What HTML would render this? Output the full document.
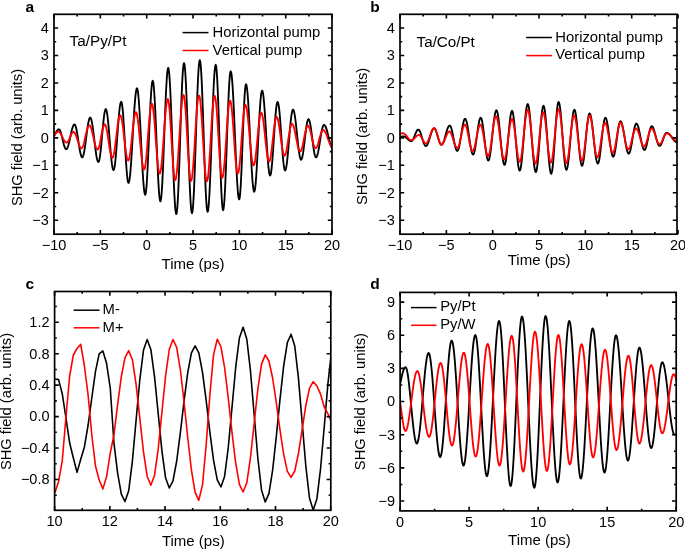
<!DOCTYPE html>
<html><head><meta charset="utf-8"><style>
html,body{margin:0;padding:0;background:#fff;width:685px;height:550px;overflow:hidden}
svg{display:block;transform:translateZ(0);will-change:transform}
text{font-family:"Liberation Sans",sans-serif}
</style></head><body>
<svg width="685" height="550" viewBox="0 0 685 550" font-family="Liberation Sans, sans-serif" fill="#000">
<clipPath id="ca"><rect x="54" y="14.3" width="278" height="219.9"/></clipPath>
<path d="M51.1,139.1 L51.59,139.01 L52.08,138.73 L52.56,138.27 L53.05,137.66 L53.54,136.92 L54.02,136.08 L54.51,135.16 L55,134.2 L55.49,133.24 L55.98,132.32 L56.46,131.48 L56.95,130.74 L57.44,130.13 L57.92,129.67 L58.41,129.39 L58.9,129.3 L59.39,129.52 L59.87,130.16 L60.36,131.2 L60.85,132.59 L61.33,134.28 L61.82,136.18 L62.31,138.21 L62.79,140.29 L63.28,142.32 L63.77,144.22 L64.25,145.91 L64.74,147.3 L65.23,148.34 L65.71,148.98 L66.2,149.2 L66.69,148.99 L67.18,148.36 L67.66,147.34 L68.15,145.96 L68.64,144.27 L69.13,142.33 L69.62,140.19 L70.11,137.94 L70.59,135.66 L71.08,133.41 L71.57,131.27 L72.06,129.33 L72.55,127.64 L73.04,126.26 L73.52,125.24 L74.01,124.61 L74.5,124.4 L74.98,124.72 L75.46,125.66 L75.94,127.18 L76.42,129.23 L76.91,131.73 L77.39,134.59 L77.87,137.68 L78.35,140.9 L78.83,144.12 L79.31,147.21 L79.79,150.07 L80.28,152.57 L80.76,154.62 L81.24,156.14 L81.72,157.08 L82.2,157.4 L82.7,157.02 L83.2,155.89 L83.7,154.05 L84.2,151.57 L84.7,148.56 L85.2,145.12 L85.7,141.38 L86.2,137.5 L86.7,133.62 L87.2,129.88 L87.7,126.44 L88.2,123.43 L88.7,120.95 L89.2,119.11 L89.7,117.98 L90.2,117.6 L90.68,117.98 L91.16,119.1 L91.65,120.93 L92.13,123.39 L92.61,126.42 L93.09,129.9 L93.58,133.72 L94.06,137.75 L94.54,141.85 L95.02,145.88 L95.51,149.7 L95.99,153.18 L96.47,156.21 L96.95,158.67 L97.44,160.5 L97.92,161.62 L98.4,162 L98.89,161.42 L99.39,159.71 L99.88,156.95 L100.37,153.25 L100.87,148.78 L101.36,143.72 L101.85,138.31 L102.35,132.79 L102.84,127.38 L103.33,122.33 L103.83,117.85 L104.32,114.15 L104.81,111.39 L105.31,109.68 L105.8,109.1 L106.28,109.69 L106.76,111.42 L107.24,114.24 L107.72,118.03 L108.21,122.66 L108.69,127.93 L109.17,133.65 L109.65,139.6 L110.13,145.55 L110.61,151.27 L111.09,156.54 L111.58,161.17 L112.06,164.96 L112.54,167.78 L113.02,169.51 L113.5,170.1 L113.98,169.44 L114.46,167.5 L114.94,164.34 L115.42,160.08 L115.91,154.9 L116.39,148.99 L116.87,142.57 L117.35,135.9 L117.83,129.23 L118.31,122.81 L118.79,116.9 L119.28,111.72 L119.76,107.46 L120.24,104.3 L120.72,102.36 L121.2,101.7 L121.69,102.59 L122.17,105.21 L122.66,109.45 L123.15,115.13 L123.63,122 L124.12,129.75 L124.61,138.06 L125.09,146.54 L125.58,154.85 L126.07,162.6 L126.55,169.47 L127.04,175.15 L127.53,179.39 L128.01,182.01 L128.5,182.9 L129,182.09 L129.5,179.71 L130,175.82 L130.5,170.56 L131,164.1 L131.5,156.68 L132,148.54 L132.5,139.96 L133,131.24 L133.5,122.66 L134,114.52 L134.5,107.1 L135,100.64 L135.5,95.38 L136,91.49 L136.5,89.11 L137,88.3 L137.48,89.21 L137.96,91.9 L138.45,96.28 L138.93,102.2 L139.41,109.46 L139.89,117.81 L140.38,126.98 L140.86,136.64 L141.34,146.46 L141.82,156.12 L142.31,165.29 L142.79,173.64 L143.27,180.9 L143.75,186.82 L144.24,191.2 L144.72,193.89 L145.2,194.8 L145.7,193.55 L146.2,189.87 L146.7,183.91 L147.2,175.94 L147.7,166.3 L148.2,155.41 L148.7,143.76 L149.2,131.84 L149.7,120.19 L150.2,109.3 L150.7,99.66 L151.2,91.69 L151.7,85.73 L152.2,82.05 L152.7,80.8 L153.18,81.96 L153.66,85.39 L154.14,90.96 L154.62,98.46 L155.11,107.6 L155.59,118.02 L156.07,129.34 L156.55,141.1 L157.03,152.86 L157.51,164.18 L157.99,174.6 L158.47,183.74 L158.96,191.24 L159.44,196.81 L159.92,200.24 L160.4,201.4 L160.89,200.12 L161.38,196.32 L161.86,190.15 L162.35,181.85 L162.84,171.73 L163.32,160.19 L163.81,147.67 L164.3,134.65 L164.79,121.63 L165.28,109.11 L165.76,97.57 L166.25,87.45 L166.74,79.15 L167.22,72.98 L167.71,69.18 L168.2,67.9 L168.68,69.14 L169.15,72.84 L169.63,78.85 L170.11,86.98 L170.58,96.95 L171.06,108.42 L171.54,121 L172.01,134.26 L172.49,147.74 L172.96,161 L173.44,173.58 L173.92,185.05 L174.39,195.02 L174.87,203.15 L175.35,209.16 L175.82,212.86 L176.3,214.1 L176.78,212.65 L177.26,208.35 L177.74,201.38 L178.23,191.99 L178.71,180.55 L179.19,167.49 L179.67,153.33 L180.15,138.6 L180.63,123.87 L181.11,109.71 L181.59,96.65 L182.07,85.21 L182.56,75.82 L183.04,68.85 L183.52,64.55 L184,63.1 L184.5,64.54 L185,68.82 L185.5,75.76 L186,85.1 L186.5,96.48 L187,109.46 L187.5,123.55 L188,138.2 L188.5,152.85 L189,166.94 L189.5,179.92 L190,191.3 L190.5,200.64 L191,207.58 L191.5,211.86 L192,213.3 L192.49,211.83 L192.97,207.47 L193.46,200.39 L193.95,190.86 L194.44,179.26 L194.93,166.01 L195.41,151.64 L195.9,136.7 L196.39,121.76 L196.88,107.39 L197.36,94.14 L197.85,82.54 L198.34,73.01 L198.83,65.93 L199.31,61.57 L199.8,60.1 L200.29,61.56 L200.78,65.87 L201.26,72.88 L201.75,82.32 L202.24,93.81 L202.72,106.92 L203.21,121.15 L203.7,135.95 L204.19,150.75 L204.68,164.98 L205.16,178.09 L205.65,189.58 L206.14,199.02 L206.62,206.03 L207.11,210.34 L207.6,211.8 L208.08,210.55 L208.55,206.84 L209.03,200.79 L209.51,192.62 L209.98,182.59 L210.46,171.06 L210.94,158.41 L211.41,145.08 L211.89,131.52 L212.36,118.19 L212.84,105.54 L213.32,94.01 L213.79,83.98 L214.27,75.81 L214.75,69.76 L215.22,66.05 L215.7,64.8 L216.19,66.39 L216.69,71.09 L217.18,78.69 L217.67,88.87 L218.17,101.17 L218.66,115.07 L219.15,129.95 L219.65,145.15 L220.14,160.03 L220.63,173.92 L221.13,186.23 L221.62,196.41 L222.11,204.01 L222.61,208.71 L223.1,210.3 L223.57,208.96 L224.05,205.01 L224.53,198.59 L225,189.94 L225.47,179.41 L225.95,167.4 L226.42,154.36 L226.9,140.8 L227.38,127.24 L227.85,114.2 L228.32,102.19 L228.8,91.66 L229.27,83.01 L229.75,76.59 L230.22,72.64 L230.7,71.3 L231.2,72.39 L231.7,75.63 L232.2,80.89 L232.7,88.02 L233.2,96.75 L233.7,106.8 L234.2,117.82 L234.7,129.44 L235.2,141.26 L235.7,152.88 L236.2,163.9 L236.7,173.95 L237.2,182.68 L237.7,189.81 L238.2,195.07 L238.7,198.31 L239.2,199.4 L239.69,197.96 L240.17,193.7 L240.66,186.83 L241.14,177.71 L241.63,166.79 L242.11,154.62 L242.6,141.8 L243.09,128.98 L243.57,116.81 L244.06,105.89 L244.54,96.77 L245.03,89.9 L245.51,85.64 L246,84.2 L246.48,85.12 L246.96,87.83 L247.45,92.25 L247.93,98.23 L248.41,105.56 L248.89,113.99 L249.38,123.24 L249.86,132.99 L250.34,142.91 L250.82,152.66 L251.31,161.91 L251.79,170.34 L252.27,177.67 L252.75,183.65 L253.24,188.07 L253.72,190.78 L254.2,191.7 L254.69,190.73 L255.19,187.85 L255.68,183.18 L256.18,176.89 L256.67,169.23 L257.16,160.49 L257.66,151.01 L258.15,141.15 L258.64,131.29 L259.14,121.81 L259.63,113.07 L260.12,105.41 L260.62,99.12 L261.11,94.45 L261.61,91.57 L262.1,90.6 L262.6,91.42 L263.1,93.83 L263.6,97.75 L264.1,103.03 L264.6,109.47 L265.1,116.81 L265.6,124.77 L266.1,133.05 L266.6,141.33 L267.1,149.29 L267.6,156.63 L268.1,163.07 L268.6,168.35 L269.1,172.27 L269.6,174.68 L270.1,175.5 L270.6,174.7 L271.1,172.32 L271.6,168.47 L272.1,163.32 L272.6,157.1 L273.1,150.07 L273.6,142.55 L274.1,134.85 L274.6,127.33 L275.1,120.3 L275.6,114.08 L276.1,108.93 L276.6,105.08 L277.1,102.7 L277.6,101.9 L278.1,102.65 L278.6,104.87 L279.1,108.45 L279.6,113.25 L280.1,119.05 L280.6,125.6 L281.1,132.61 L281.6,139.79 L282.1,146.8 L282.6,153.35 L283.1,159.15 L283.6,163.95 L284.1,167.53 L284.6,169.75 L285.1,170.5 L285.59,169.91 L286.09,168.18 L286.58,165.37 L287.08,161.58 L287.57,156.97 L288.06,151.7 L288.56,145.99 L289.05,140.05 L289.54,134.11 L290.04,128.4 L290.53,123.13 L291.02,118.52 L291.52,114.73 L292.01,111.92 L292.51,110.19 L293,109.6 L293.48,110.03 L293.95,111.29 L294.43,113.35 L294.91,116.14 L295.38,119.55 L295.86,123.48 L296.34,127.79 L296.81,132.34 L297.29,136.96 L297.76,141.51 L298.24,145.82 L298.72,149.75 L299.19,153.16 L299.67,155.95 L300.15,158.01 L300.62,159.27 L301.1,159.7 L301.59,159.26 L302.09,157.95 L302.58,155.83 L303.07,153 L303.57,149.57 L304.06,145.71 L304.55,141.57 L305.05,137.33 L305.54,133.19 L306.03,129.32 L306.53,125.9 L307.02,123.07 L307.51,120.95 L308.01,119.64 L308.5,119.2 L309,119.62 L309.5,120.85 L310,122.85 L310.5,125.52 L311,128.75 L311.5,132.4 L312,136.3 L312.5,140.3 L313,144.2 L313.5,147.85 L314,151.08 L314.5,153.75 L315,155.75 L315.5,156.98 L316,157.4 L316.5,157.09 L317,156.16 L317.5,154.66 L318,152.64 L318.5,150.18 L319,147.37 L319.5,144.32 L320,141.15 L320.5,137.98 L321,134.93 L321.5,132.12 L322,129.66 L322.5,127.64 L323,126.14 L323.5,125.21 L324,124.9 L324.5,125.08 L325,125.61 L325.5,126.48 L326,127.66 L326.5,129.12 L327,130.8 L327.5,132.66 L328,134.65 L328.5,136.7 L329,138.75 L329.5,140.74 L330,142.6 L330.5,144.28 L331,145.74 L331.5,146.92 L332,147.79 L332.5,148.32 L333,148.5" fill="none" stroke="#000" stroke-width="1.85" stroke-linejoin="round" clip-path="url(#ca)"/>
<path d="M50.5,139.5 L50.98,139.42 L51.46,139.2 L51.94,138.83 L52.42,138.34 L52.91,137.74 L53.39,137.06 L53.87,136.32 L54.35,135.55 L54.83,134.78 L55.31,134.04 L55.79,133.36 L56.28,132.76 L56.76,132.27 L57.24,131.9 L57.72,131.68 L58.2,131.6 L58.69,131.69 L59.19,131.97 L59.68,132.42 L60.18,133.04 L60.67,133.79 L61.16,134.65 L61.66,135.59 L62.15,136.59 L62.65,137.61 L63.14,138.61 L63.64,139.55 L64.13,140.41 L64.62,141.16 L65.12,141.78 L65.61,142.23 L66.11,142.51 L66.6,142.6 L67.09,142.47 L67.59,142.07 L68.08,141.43 L68.57,140.59 L69.06,139.57 L69.56,138.44 L70.05,137.25 L70.54,136.06 L71.04,134.93 L71.53,133.91 L72.02,133.07 L72.51,132.43 L73.01,132.03 L73.5,131.9 L74,132.06 L74.5,132.52 L75,133.28 L75.5,134.3 L76,135.54 L76.5,136.96 L77,138.5 L77.5,140.1 L78,141.7 L78.5,143.24 L79,144.66 L79.5,145.9 L80,146.92 L80.5,147.68 L81,148.14 L81.5,148.3 L81.99,148.08 L82.47,147.42 L82.96,146.36 L83.45,144.93 L83.94,143.19 L84.42,141.2 L84.91,139.04 L85.4,136.8 L85.89,134.56 L86.38,132.4 L86.86,130.41 L87.35,128.67 L87.84,127.24 L88.33,126.18 L88.81,125.52 L89.3,125.3 L89.79,125.51 L90.28,126.12 L90.76,127.12 L91.25,128.47 L91.74,130.13 L92.23,132.03 L92.72,134.12 L93.21,136.33 L93.69,138.57 L94.18,140.78 L94.67,142.87 L95.16,144.77 L95.65,146.43 L96.14,147.78 L96.62,148.78 L97.11,149.39 L97.6,149.6 L98.07,149.32 L98.55,148.51 L99.02,147.18 L99.49,145.41 L99.97,143.28 L100.44,140.86 L100.91,138.27 L101.39,135.63 L101.86,133.04 L102.33,130.62 L102.81,128.49 L103.28,126.72 L103.75,125.39 L104.23,124.58 L104.7,124.3 L105.18,124.62 L105.66,125.57 L106.14,127.11 L106.62,129.19 L107.11,131.72 L107.59,134.61 L108.07,137.74 L108.55,141 L109.03,144.26 L109.51,147.39 L109.99,150.28 L110.48,152.81 L110.96,154.89 L111.44,156.43 L111.92,157.38 L112.4,157.7 L112.89,157.29 L113.38,156.09 L113.86,154.13 L114.35,151.49 L114.84,148.28 L115.33,144.61 L115.81,140.64 L116.3,136.5 L116.79,132.36 L117.28,128.39 L117.76,124.72 L118.25,121.51 L118.74,118.87 L119.23,116.91 L119.71,115.71 L120.2,115.3 L120.7,115.73 L121.2,117.02 L121.7,119.11 L122.2,121.92 L122.7,125.34 L123.2,129.25 L123.7,133.49 L124.2,137.9 L124.7,142.31 L125.2,146.55 L125.7,150.46 L126.2,153.88 L126.7,156.69 L127.2,158.78 L127.7,160.07 L128.2,160.5 L128.68,160.04 L129.16,158.66 L129.64,156.43 L130.12,153.43 L130.61,149.77 L131.09,145.59 L131.57,141.06 L132.05,136.35 L132.53,131.64 L133.01,127.11 L133.49,122.93 L133.97,119.27 L134.46,116.27 L134.94,114.04 L135.42,112.66 L135.9,112.2 L136.38,112.69 L136.86,114.14 L137.35,116.5 L137.83,119.69 L138.31,123.6 L138.79,128.11 L139.28,133.05 L139.76,138.25 L140.24,143.55 L140.72,148.75 L141.21,153.69 L141.69,158.2 L142.17,162.11 L142.65,165.3 L143.14,167.66 L143.62,169.11 L144.1,169.6 L144.58,168.97 L145.06,167.09 L145.54,164.05 L146.03,159.95 L146.51,154.96 L146.99,149.26 L147.47,143.08 L147.95,136.65 L148.43,130.22 L148.91,124.04 L149.39,118.34 L149.88,113.35 L150.36,109.25 L150.84,106.21 L151.32,104.33 L151.8,103.7 L152.29,104.37 L152.79,106.36 L153.28,109.59 L153.78,113.94 L154.27,119.23 L154.76,125.28 L155.26,131.83 L155.75,138.65 L156.24,145.47 L156.74,152.02 L157.23,158.07 L157.72,163.36 L158.22,167.71 L158.71,170.94 L159.21,172.93 L159.7,173.6 L160.18,172.97 L160.65,171.08 L161.13,168.02 L161.61,163.88 L162.08,158.8 L162.56,152.95 L163.04,146.54 L163.51,139.79 L163.99,132.91 L164.46,126.16 L164.94,119.75 L165.42,113.9 L165.89,108.82 L166.37,104.68 L166.85,101.62 L167.32,99.73 L167.8,99.1 L168.29,99.99 L168.79,102.6 L169.28,106.83 L169.77,112.5 L170.27,119.35 L170.76,127.08 L171.25,135.37 L171.75,143.83 L172.24,152.12 L172.73,159.85 L173.23,166.7 L173.72,172.37 L174.21,176.6 L174.71,179.21 L175.2,180.1 L175.69,179.37 L176.18,177.22 L176.66,173.72 L177.15,168.98 L177.64,163.17 L178.13,156.49 L178.62,149.16 L179.11,141.43 L179.59,133.57 L180.08,125.84 L180.57,118.51 L181.06,111.83 L181.55,106.02 L182.04,101.28 L182.52,97.78 L183.01,95.63 L183.5,94.9 L184,95.84 L184.5,98.62 L185,103.11 L185.5,109.13 L186,116.4 L186.5,124.61 L187,133.41 L187.5,142.39 L188,151.19 L188.5,159.4 L189,166.67 L189.5,172.69 L190,177.18 L190.5,179.96 L191,180.9 L191.5,180.08 L192,177.65 L192.5,173.7 L193,168.39 L193.5,161.92 L194,154.54 L194.5,146.53 L195,138.2 L195.5,129.87 L196,121.86 L196.5,114.48 L197,108.01 L197.5,102.7 L198,98.75 L198.5,96.32 L199,95.5 L199.49,96.32 L199.99,98.77 L200.48,102.73 L200.97,108.07 L201.47,114.57 L201.96,121.98 L202.46,130.03 L202.95,138.4 L203.44,146.77 L203.94,154.82 L204.43,162.23 L204.93,168.73 L205.42,174.07 L205.91,178.03 L206.41,180.48 L206.9,181.3 L207.38,180.48 L207.86,178.04 L208.34,174.09 L208.82,168.76 L209.31,162.28 L209.79,154.88 L210.27,146.85 L210.75,138.5 L211.23,130.15 L211.71,122.12 L212.19,114.72 L212.68,108.24 L213.16,102.91 L213.64,98.96 L214.12,96.52 L214.6,95.7 L215.07,96.49 L215.55,98.82 L216.03,102.62 L216.5,107.72 L216.97,113.94 L217.45,121.04 L217.92,128.74 L218.4,136.75 L218.88,144.76 L219.35,152.46 L219.82,159.56 L220.3,165.78 L220.77,170.88 L221.25,174.68 L221.72,177.01 L222.2,177.8 L222.69,177.06 L223.19,174.86 L223.68,171.29 L224.17,166.49 L224.67,160.65 L225.16,153.97 L225.66,146.73 L226.15,139.2 L226.64,131.67 L227.14,124.43 L227.63,117.75 L228.12,111.91 L228.62,107.11 L229.11,103.54 L229.61,101.34 L230.1,100.6 L230.58,101.3 L231.06,103.38 L231.54,106.75 L232.03,111.29 L232.51,116.82 L232.99,123.13 L233.47,129.98 L233.95,137.1 L234.43,144.22 L234.91,151.07 L235.39,157.38 L235.88,162.91 L236.36,167.45 L236.84,170.82 L237.32,172.9 L237.8,173.6 L238.28,172.94 L238.75,170.99 L239.23,167.81 L239.7,163.54 L240.18,158.33 L240.65,152.4 L241.12,145.95 L241.6,139.25 L242.08,132.55 L242.55,126.1 L243.03,120.17 L243.5,114.96 L243.97,110.69 L244.45,107.51 L244.93,105.56 L245.4,104.9 L245.88,105.42 L246.36,106.94 L246.85,109.43 L247.33,112.79 L247.81,116.92 L248.29,121.67 L248.78,126.87 L249.26,132.36 L249.74,137.94 L250.22,143.43 L250.71,148.63 L251.19,153.38 L251.67,157.51 L252.15,160.87 L252.64,163.36 L253.12,164.88 L253.6,165.4 L254.07,164.89 L254.55,163.39 L255.03,160.96 L255.5,157.68 L255.97,153.69 L256.45,149.13 L256.93,144.19 L257.4,139.05 L257.88,133.91 L258.35,128.97 L258.82,124.41 L259.3,120.42 L259.77,117.14 L260.25,114.71 L260.72,113.21 L261.2,112.7 L261.69,113.17 L262.19,114.56 L262.68,116.82 L263.18,119.86 L263.67,123.57 L264.16,127.79 L264.66,132.38 L265.15,137.15 L265.64,141.92 L266.14,146.51 L266.63,150.73 L267.12,154.44 L267.62,157.48 L268.11,159.74 L268.61,161.13 L269.1,161.6 L269.6,161.11 L270.1,159.67 L270.6,157.33 L271.1,154.21 L271.6,150.43 L272.1,146.16 L272.6,141.59 L273.1,136.91 L273.6,132.34 L274.1,128.08 L274.6,124.29 L275.1,121.17 L275.6,118.83 L276.1,117.39 L276.6,116.9 L277.09,117.27 L277.59,118.38 L278.08,120.17 L278.58,122.58 L279.07,125.52 L279.56,128.88 L280.06,132.52 L280.55,136.3 L281.04,140.08 L281.54,143.72 L282.03,147.08 L282.52,150.02 L283.02,152.43 L283.51,154.22 L284.01,155.33 L284.5,155.7 L285,155.35 L285.5,154.32 L286,152.65 L286.5,150.42 L287,147.72 L287.5,144.68 L288,141.42 L288.5,138.08 L289,134.82 L289.5,131.78 L290,129.08 L290.5,126.85 L291,125.18 L291.5,124.15 L292,123.8 L292.48,124.04 L292.96,124.74 L293.45,125.87 L293.93,127.41 L294.41,129.3 L294.89,131.48 L295.38,133.86 L295.86,136.37 L296.34,138.93 L296.82,141.44 L297.31,143.82 L297.79,146 L298.27,147.89 L298.75,149.43 L299.24,150.56 L299.72,151.26 L300.2,151.5 L300.68,151.25 L301.15,150.52 L301.62,149.33 L302.1,147.72 L302.57,145.77 L303.05,143.54 L303.52,141.12 L304,138.6 L304.48,136.08 L304.95,133.66 L305.43,131.43 L305.9,129.48 L306.38,127.87 L306.85,126.68 L307.32,125.95 L307.8,125.7 L308.29,125.92 L308.78,126.55 L309.26,127.59 L309.75,128.98 L310.24,130.68 L310.73,132.61 L311.21,134.71 L311.7,136.9 L312.19,139.09 L312.68,141.19 L313.16,143.12 L313.65,144.82 L314.14,146.21 L314.62,147.25 L315.11,147.88 L315.6,148.1 L316.1,147.9 L316.6,147.32 L317.1,146.37 L317.6,145.11 L318.1,143.57 L318.6,141.85 L319.1,140 L319.6,138.1 L320.1,136.25 L320.6,134.53 L321.1,132.99 L321.6,131.73 L322.1,130.78 L322.6,130.2 L323.1,130 L323.6,130.11 L324.09,130.44 L324.59,130.98 L325.08,131.72 L325.58,132.64 L326.07,133.71 L326.56,134.91 L327.06,136.22 L327.56,137.59 L328.05,139 L328.55,140.41 L329.04,141.78 L329.54,143.09 L330.03,144.29 L330.52,145.36 L331.02,146.28 L331.51,147.02 L332.01,147.56 L332.5,147.89 L333,148" fill="none" stroke="#f00" stroke-width="1.85" stroke-linejoin="round" clip-path="url(#ca)"/>
<rect x="54" y="14.3" width="278" height="219.9" fill="none" stroke="#000" stroke-width="1.7"/>
<path d="M54.03,234.2v-4.2M54.03,14.3v4.2M100.36,234.2v-4.2M100.36,14.3v4.2M146.7,234.2v-4.2M146.7,14.3v4.2M193.03,234.2v-4.2M193.03,14.3v4.2M239.37,234.2v-4.2M239.37,14.3v4.2M285.7,234.2v-4.2M285.7,14.3v4.2M332.04,234.2v-4.2M332.04,14.3v4.2M77.2,234.2v-2.2M77.2,14.3v2.2M123.53,234.2v-2.2M123.53,14.3v2.2M169.87,234.2v-2.2M169.87,14.3v2.2M216.2,234.2v-2.2M216.2,14.3v2.2M262.54,234.2v-2.2M262.54,14.3v2.2M308.87,234.2v-2.2M308.87,14.3v2.2" stroke="#000" stroke-width="1.6" fill="none"/>
<path d="M54,28.01h4.2M332,28.01h-4.2M54,55.47h4.2M332,55.47h-4.2M54,82.93h4.2M332,82.93h-4.2M54,110.39h4.2M332,110.39h-4.2M54,137.85h4.2M332,137.85h-4.2M54,165.31h4.2M332,165.31h-4.2M54,192.77h4.2M332,192.77h-4.2M54,220.23h4.2M332,220.23h-4.2M54,41.74h2.2M332,41.74h-2.2M54,69.2h2.2M332,69.2h-2.2M54,96.66h2.2M332,96.66h-2.2M54,124.12h2.2M332,124.12h-2.2M54,151.58h2.2M332,151.58h-2.2M54,179.04h2.2M332,179.04h-2.2M54,206.5h2.2M332,206.5h-2.2" stroke="#000" stroke-width="1.6" fill="none"/>
<text x="54.03" y="250.2" font-size="14.5" text-anchor="middle" >−10</text>
<text x="100.36" y="250.2" font-size="14.5" text-anchor="middle" >−5</text>
<text x="146.7" y="250.2" font-size="14.5" text-anchor="middle" >0</text>
<text x="193.03" y="250.2" font-size="14.5" text-anchor="middle" >5</text>
<text x="239.37" y="250.2" font-size="14.5" text-anchor="middle" >10</text>
<text x="285.7" y="250.2" font-size="14.5" text-anchor="middle" >15</text>
<text x="332.04" y="250.2" font-size="14.5" text-anchor="middle" >20</text>
<text x="48.9" y="32.81" font-size="14.5" text-anchor="end" >4</text>
<text x="48.9" y="60.27" font-size="14.5" text-anchor="end" >3</text>
<text x="48.9" y="87.73" font-size="14.5" text-anchor="end" >2</text>
<text x="48.9" y="115.19" font-size="14.5" text-anchor="end" >1</text>
<text x="48.9" y="142.65" font-size="14.5" text-anchor="end" >0</text>
<text x="48.9" y="170.11" font-size="14.5" text-anchor="end" >−1</text>
<text x="48.9" y="197.57" font-size="14.5" text-anchor="end" >−2</text>
<text x="48.9" y="225.03" font-size="14.5" text-anchor="end" >−3</text>
<text x="193" y="268.7" font-size="15" text-anchor="middle" >Time (ps)</text>
<text x="0" y="0" font-size="14.7" text-anchor="middle" transform="translate(22.2,137.5) rotate(-90)">SHG field (arb. units)</text>
<text x="25.6" y="11.8" font-size="15.5" font-weight="bold">a</text>
<path d="M182.6,32.6H208.5" stroke="#000" stroke-width="1.5"/>
<text x="212.6" y="36.6" font-size="14.8" text-anchor="start" >Horizontal pump</text>
<path d="M182.6,50.5H208.5" stroke="#f00" stroke-width="1.5"/>
<text x="212.6" y="54.6" font-size="14.8" text-anchor="start" >Vertical pump</text>
<text x="69.6" y="45.8" font-size="15.3" text-anchor="start" >Ta/Py/Pt</text>
<clipPath id="cb"><rect x="400" y="14.3" width="277" height="219.9"/></clipPath>
<path d="M396,138.5 L396.49,138.48 L396.97,138.4 L397.46,138.29 L397.95,138.14 L398.43,137.95 L398.92,137.74 L399.41,137.51 L399.89,137.29 L400.38,137.06 L400.87,136.85 L401.35,136.66 L401.84,136.51 L402.33,136.4 L402.81,136.32 L403.3,136.3 L403.8,136.35 L404.3,136.48 L404.8,136.7 L405.3,137 L405.8,137.37 L406.3,137.78 L406.8,138.23 L407.3,138.7 L407.8,139.17 L408.3,139.62 L408.8,140.03 L409.3,140.4 L409.8,140.7 L410.3,140.92 L410.8,141.05 L411.3,141.1 L411.8,140.96 L412.3,140.53 L412.8,139.85 L413.3,138.94 L413.8,137.84 L414.3,136.63 L414.8,135.35 L415.3,134.07 L415.8,132.86 L416.3,131.76 L416.8,130.85 L417.3,130.17 L417.8,129.74 L418.3,129.6 L418.78,129.76 L419.25,130.22 L419.73,130.98 L420.2,132 L420.68,133.24 L421.15,134.66 L421.62,136.2 L422.1,137.8 L422.57,139.4 L423.05,140.94 L423.52,142.36 L424,143.6 L424.47,144.62 L424.95,145.38 L425.42,145.84 L425.9,146 L426.38,145.85 L426.86,145.4 L427.35,144.67 L427.83,143.69 L428.31,142.48 L428.79,141.09 L429.28,139.57 L429.76,137.97 L430.24,136.33 L430.72,134.73 L431.21,133.21 L431.69,131.82 L432.17,130.61 L432.65,129.63 L433.14,128.9 L433.62,128.45 L434.1,128.3 L434.59,128.48 L435.07,129.01 L435.56,129.88 L436.05,131.03 L436.53,132.43 L437.02,134 L437.51,135.69 L437.99,137.41 L438.48,139.1 L438.97,140.68 L439.45,142.07 L439.94,143.22 L440.43,144.09 L440.91,144.62 L441.4,144.8 L441.89,144.64 L442.38,144.15 L442.86,143.36 L443.35,142.29 L443.84,140.99 L444.33,139.48 L444.82,137.83 L445.31,136.09 L445.79,134.31 L446.28,132.57 L446.77,130.92 L447.26,129.41 L447.75,128.11 L448.24,127.04 L448.72,126.25 L449.21,125.76 L449.7,125.6 L450.18,125.84 L450.65,126.56 L451.12,127.73 L451.6,129.31 L452.07,131.22 L452.55,133.41 L453.02,135.78 L453.5,138.25 L453.98,140.72 L454.45,143.09 L454.93,145.28 L455.4,147.19 L455.88,148.77 L456.35,149.94 L456.82,150.66 L457.3,150.9 L457.79,150.59 L458.28,149.67 L458.76,148.19 L459.25,146.18 L459.74,143.74 L460.23,140.96 L460.71,137.94 L461.2,134.8 L461.69,131.66 L462.18,128.64 L462.66,125.86 L463.15,123.42 L463.64,121.41 L464.12,119.93 L464.61,119.01 L465.1,118.7 L465.6,119.04 L466.1,120.06 L466.6,121.72 L467.1,123.94 L467.6,126.66 L468.1,129.75 L468.6,133.11 L469.1,136.6 L469.6,140.09 L470.1,143.45 L470.6,146.54 L471.1,149.26 L471.6,151.48 L472.1,153.14 L472.6,154.16 L473.1,154.5 L473.58,154.15 L474.05,153.1 L474.53,151.4 L475,149.11 L475.48,146.32 L475.95,143.14 L476.43,139.69 L476.9,136.1 L477.38,132.51 L477.85,129.06 L478.32,125.88 L478.8,123.09 L479.27,120.8 L479.75,119.1 L480.22,118.05 L480.7,117.7 L481.18,118.11 L481.65,119.33 L482.12,121.31 L482.6,123.97 L483.07,127.21 L483.55,130.91 L484.02,134.93 L484.5,139.1 L484.98,143.27 L485.45,147.29 L485.93,150.99 L486.4,154.23 L486.88,156.89 L487.35,158.87 L487.82,160.09 L488.3,160.5 L488.78,160.07 L489.25,158.81 L489.73,156.74 L490.21,153.95 L490.68,150.53 L491.16,146.59 L491.64,142.27 L492.11,137.72 L492.59,133.08 L493.06,128.53 L493.54,124.21 L494.02,120.27 L494.49,116.85 L494.97,114.06 L495.45,111.99 L495.92,110.73 L496.4,110.3 L496.88,110.76 L497.35,112.14 L497.83,114.39 L498.31,117.43 L498.78,121.15 L499.26,125.43 L499.74,130.13 L500.21,135.08 L500.69,140.12 L501.16,145.07 L501.64,149.77 L502.12,154.05 L502.59,157.77 L503.07,160.81 L503.55,163.06 L504.02,164.44 L504.5,164.9 L505,164.31 L505.5,162.56 L506,159.73 L506.5,155.95 L507,151.38 L507.5,146.21 L508,140.68 L508.5,135.02 L509,129.49 L509.5,124.33 L510,119.75 L510.5,115.97 L511,113.14 L511.5,111.39 L512,110.8 L512.48,111.37 L512.96,113.08 L513.44,115.84 L513.92,119.56 L514.41,124.09 L514.89,129.26 L515.37,134.87 L515.85,140.7 L516.33,146.53 L516.81,152.14 L517.29,157.31 L517.78,161.84 L518.26,165.56 L518.74,168.32 L519.22,170.03 L519.7,170.6 L520.2,169.96 L520.7,168.07 L521.2,165 L521.7,160.86 L522.2,155.82 L522.7,150.07 L523.2,143.84 L523.7,137.35 L524.2,130.86 L524.7,124.63 L525.2,118.88 L525.7,113.84 L526.2,109.7 L526.7,106.63 L527.2,104.74 L527.7,104.1 L528.18,104.68 L528.65,106.4 L529.13,109.19 L529.61,112.97 L530.08,117.61 L530.56,122.94 L531.04,128.8 L531.51,134.96 L531.99,141.24 L532.46,147.4 L532.94,153.26 L533.42,158.59 L533.89,163.23 L534.37,167.01 L534.85,169.8 L535.32,171.52 L535.8,172.1 L536.28,171.46 L536.76,169.57 L537.24,166.5 L537.72,162.38 L538.21,157.34 L538.69,151.61 L539.17,145.38 L539.65,138.9 L540.13,132.42 L540.61,126.19 L541.09,120.46 L541.58,115.42 L542.06,111.3 L542.54,108.23 L543.02,106.34 L543.5,105.7 L543.98,106.35 L544.46,108.29 L544.94,111.43 L545.42,115.66 L545.91,120.81 L546.39,126.69 L546.87,133.07 L547.35,139.7 L547.83,146.33 L548.31,152.71 L548.79,158.59 L549.28,163.74 L549.76,167.97 L550.24,171.11 L550.72,173.05 L551.2,173.7 L551.69,172.92 L552.19,170.6 L552.68,166.85 L553.17,161.84 L553.67,155.78 L554.16,148.93 L554.65,141.6 L555.15,134.1 L555.64,126.77 L556.13,119.93 L556.63,113.86 L557.12,108.85 L557.61,105.1 L558.11,102.78 L558.6,102 L559.09,102.65 L559.58,104.58 L560.06,107.71 L560.55,111.93 L561.04,117.07 L561.52,122.93 L562.01,129.29 L562.5,135.9 L562.99,142.51 L563.48,148.87 L563.96,154.73 L564.45,159.87 L564.94,164.09 L565.42,167.22 L565.91,169.15 L566.4,169.8 L566.9,169.22 L567.4,167.51 L567.9,164.74 L568.4,161 L568.9,156.44 L569.4,151.25 L569.9,145.61 L570.4,139.75 L570.9,133.89 L571.4,128.25 L571.9,123.06 L572.4,118.5 L572.9,114.76 L573.4,111.99 L573.9,110.28 L574.4,109.7 L574.88,110.24 L575.35,111.84 L575.82,114.43 L576.3,117.92 L576.77,122.17 L577.25,127.02 L577.73,132.28 L578.2,137.75 L578.67,143.22 L579.15,148.48 L579.62,153.33 L580.1,157.58 L580.58,161.07 L581.05,163.66 L581.52,165.26 L582,165.8 L582.48,165.3 L582.95,163.81 L583.42,161.38 L583.9,158.13 L584.38,154.16 L584.85,149.63 L585.33,144.71 L585.8,139.6 L586.27,134.49 L586.75,129.57 L587.23,125.04 L587.7,121.07 L588.18,117.82 L588.65,115.39 L589.12,113.9 L589.6,113.4 L590.08,113.83 L590.56,115.09 L591.05,117.16 L591.53,119.95 L592.01,123.37 L592.49,127.31 L592.98,131.63 L593.46,136.18 L593.94,140.82 L594.42,145.37 L594.91,149.69 L595.39,153.63 L595.87,157.05 L596.35,159.84 L596.84,161.91 L597.32,163.17 L597.8,163.6 L598.27,163.16 L598.75,161.85 L599.22,159.73 L599.7,156.88 L600.17,153.4 L600.65,149.43 L601.12,145.13 L601.6,140.65 L602.07,136.17 L602.55,131.87 L603.02,127.9 L603.5,124.42 L603.98,121.57 L604.45,119.45 L604.92,118.14 L605.4,117.7 L605.89,118.07 L606.38,119.18 L606.86,120.99 L607.35,123.41 L607.84,126.37 L608.33,129.74 L608.81,133.4 L609.3,137.2 L609.79,141 L610.27,144.66 L610.76,148.03 L611.25,150.99 L611.74,153.41 L612.23,155.22 L612.71,156.33 L613.2,156.7 L613.69,156.31 L614.17,155.17 L614.66,153.32 L615.15,150.84 L615.63,147.85 L616.12,144.47 L616.61,140.85 L617.09,137.15 L617.58,133.53 L618.07,130.15 L618.55,127.16 L619.04,124.68 L619.53,122.83 L620.01,121.69 L620.5,121.3 L620.98,121.57 L621.46,122.39 L621.95,123.72 L622.43,125.52 L622.91,127.72 L623.39,130.25 L623.88,133.03 L624.36,135.96 L624.84,138.94 L625.32,141.87 L625.81,144.65 L626.29,147.18 L626.77,149.38 L627.25,151.18 L627.74,152.51 L628.22,153.33 L628.7,153.6 L629.18,153.31 L629.66,152.46 L630.14,151.07 L630.62,149.21 L631.11,146.93 L631.59,144.34 L632.07,141.53 L632.55,138.6 L633.03,135.67 L633.51,132.86 L633.99,130.27 L634.48,127.99 L634.96,126.13 L635.44,124.74 L635.92,123.89 L636.4,123.6 L636.88,123.82 L637.35,124.49 L637.83,125.58 L638.31,127.05 L638.78,128.85 L639.26,130.92 L639.74,133.19 L640.21,135.58 L640.69,138.02 L641.16,140.41 L641.64,142.68 L642.12,144.75 L642.59,146.55 L643.07,148.02 L643.55,149.11 L644.02,149.78 L644.5,150 L644.98,149.74 L645.46,148.97 L645.94,147.73 L646.42,146.06 L646.9,144.05 L647.38,141.78 L647.86,139.34 L648.34,136.86 L648.82,134.42 L649.3,132.15 L649.78,130.14 L650.26,128.47 L650.74,127.23 L651.22,126.46 L651.7,126.2 L652.19,126.39 L652.69,126.95 L653.18,127.86 L653.68,129.08 L654.17,130.58 L654.66,132.28 L655.16,134.13 L655.65,136.05 L656.14,137.97 L656.64,139.82 L657.13,141.52 L657.62,143.02 L658.12,144.24 L658.61,145.15 L659.11,145.71 L659.6,145.9 L660.1,145.74 L660.6,145.25 L661.1,144.47 L661.6,143.43 L662.1,142.19 L662.6,140.81 L663.1,139.35 L663.6,137.89 L664.1,136.51 L664.6,135.27 L665.1,134.23 L665.6,133.45 L666.1,132.96 L666.6,132.8 L667.1,132.85 L667.59,133 L668.09,133.24 L668.58,133.57 L669.08,133.98 L669.57,134.47 L670.07,135.03 L670.56,135.64 L671.06,136.28 L671.55,136.96 L672.05,137.65 L672.55,138.34 L673.04,139.02 L673.54,139.66 L674.03,140.27 L674.53,140.83 L675.02,141.32 L675.52,141.73 L676.01,142.06 L676.51,142.3 L677,142.45 L677.5,142.5" fill="none" stroke="#000" stroke-width="1.85" stroke-linejoin="round" clip-path="url(#cb)"/>
<path d="M395,136 L395.49,135.97 L395.99,135.89 L396.48,135.76 L396.98,135.59 L397.47,135.38 L397.96,135.14 L398.46,134.87 L398.95,134.6 L399.44,134.33 L399.94,134.06 L400.43,133.82 L400.92,133.61 L401.42,133.44 L401.91,133.31 L402.41,133.23 L402.9,133.2 L403.39,133.26 L403.89,133.44 L404.38,133.72 L404.88,134.11 L405.37,134.59 L405.86,135.14 L406.36,135.74 L406.85,136.38 L407.35,137.02 L407.84,137.66 L408.34,138.26 L408.83,138.81 L409.32,139.29 L409.82,139.68 L410.31,139.96 L410.81,140.14 L411.3,140.2 L411.78,140.15 L412.26,140 L412.74,139.76 L413.23,139.44 L413.71,139.04 L414.19,138.59 L414.67,138.11 L415.15,137.6 L415.63,137.09 L416.11,136.61 L416.59,136.16 L417.07,135.76 L417.56,135.44 L418.04,135.2 L418.52,135.05 L419,135 L419.49,135.11 L419.99,135.42 L420.48,135.93 L420.97,136.6 L421.46,137.41 L421.96,138.3 L422.45,139.25 L422.94,140.2 L423.44,141.09 L423.93,141.9 L424.42,142.57 L424.91,143.08 L425.41,143.39 L425.9,143.5 L426.38,143.37 L426.86,142.98 L427.35,142.35 L427.83,141.49 L428.31,140.44 L428.79,139.23 L429.28,137.91 L429.76,136.51 L430.24,135.09 L430.72,133.69 L431.21,132.37 L431.69,131.16 L432.17,130.11 L432.65,129.25 L433.14,128.62 L433.62,128.23 L434.1,128.1 L434.59,128.28 L435.09,128.81 L435.58,129.68 L436.07,130.83 L436.57,132.22 L437.06,133.8 L437.55,135.49 L438.05,137.21 L438.54,138.9 L439.03,140.47 L439.53,141.87 L440.02,143.02 L440.51,143.89 L441.01,144.42 L441.5,144.6 L441.99,144.47 L442.48,144.1 L442.96,143.5 L443.45,142.68 L443.94,141.69 L444.43,140.56 L444.91,139.33 L445.4,138.05 L445.89,136.77 L446.38,135.54 L446.86,134.41 L447.35,133.42 L447.84,132.6 L448.32,132 L448.81,131.63 L449.3,131.5 L449.8,131.66 L450.3,132.13 L450.8,132.89 L451.3,133.92 L451.8,135.17 L452.3,136.59 L452.8,138.14 L453.3,139.75 L453.8,141.36 L454.3,142.91 L454.8,144.33 L455.3,145.58 L455.8,146.61 L456.3,147.37 L456.8,147.84 L457.3,148 L457.78,147.78 L458.25,147.11 L458.73,146.03 L459.2,144.57 L459.68,142.8 L460.15,140.78 L460.62,138.58 L461.1,136.3 L461.57,134.02 L462.05,131.82 L462.52,129.8 L463,128.03 L463.47,126.57 L463.95,125.49 L464.42,124.82 L464.9,124.6 L465.38,124.86 L465.86,125.61 L466.34,126.84 L466.82,128.5 L467.31,130.51 L467.79,132.81 L468.27,135.31 L468.75,137.9 L469.23,140.49 L469.71,142.99 L470.19,145.29 L470.68,147.3 L471.16,148.96 L471.64,150.19 L472.12,150.94 L472.6,151.2 L473.09,150.94 L473.58,150.19 L474.06,148.96 L474.55,147.3 L475.04,145.29 L475.52,142.99 L476.01,140.49 L476.5,137.9 L476.99,135.31 L477.48,132.81 L477.96,130.51 L478.45,128.5 L478.94,126.84 L479.42,125.61 L479.91,124.86 L480.4,124.6 L480.88,124.9 L481.36,125.8 L481.84,127.25 L482.32,129.2 L482.81,131.58 L483.29,134.29 L483.77,137.24 L484.25,140.3 L484.73,143.36 L485.21,146.31 L485.69,149.02 L486.18,151.4 L486.66,153.35 L487.14,154.8 L487.62,155.7 L488.1,156 L488.59,155.62 L489.09,154.49 L489.58,152.65 L490.08,150.17 L490.57,147.16 L491.06,143.72 L491.56,139.98 L492.05,136.1 L492.54,132.22 L493.04,128.48 L493.53,125.04 L494.02,122.03 L494.52,119.55 L495.01,117.71 L495.51,116.58 L496,116.2 L496.48,116.57 L496.96,117.67 L497.45,119.45 L497.93,121.86 L498.41,124.82 L498.89,128.23 L499.38,131.96 L499.86,135.9 L500.34,139.9 L500.82,143.84 L501.31,147.57 L501.79,150.98 L502.27,153.94 L502.75,156.35 L503.24,158.13 L503.72,159.23 L504.2,159.6 L504.69,159.21 L505.18,158.05 L505.66,156.18 L506.15,153.65 L506.64,150.58 L507.12,147.07 L507.61,143.26 L508.1,139.3 L508.59,135.34 L509.07,131.53 L509.56,128.02 L510.05,124.95 L510.54,122.42 L511.02,120.55 L511.51,119.39 L512,119 L512.48,119.41 L512.96,120.63 L513.44,122.61 L513.92,125.28 L514.41,128.53 L514.89,132.24 L515.37,136.27 L515.85,140.45 L516.33,144.63 L516.81,148.66 L517.29,152.37 L517.78,155.62 L518.26,158.29 L518.74,160.27 L519.22,161.49 L519.7,161.9 L520.2,161.4 L520.7,159.91 L521.2,157.5 L521.7,154.26 L522.2,150.3 L522.7,145.79 L523.2,140.89 L523.7,135.8 L524.2,130.71 L524.7,125.81 L525.2,121.3 L525.7,117.34 L526.2,114.1 L526.7,111.69 L527.2,110.2 L527.7,109.7 L528.19,110.22 L528.68,111.75 L529.16,114.23 L529.65,117.58 L530.14,121.66 L530.62,126.31 L531.11,131.35 L531.6,136.6 L532.09,141.85 L532.58,146.89 L533.06,151.54 L533.55,155.62 L534.04,158.97 L534.52,161.45 L535.01,162.98 L535.5,163.5 L535.98,163.01 L536.46,161.55 L536.94,159.19 L537.42,156 L537.91,152.12 L538.39,147.7 L538.87,142.89 L539.35,137.9 L539.83,132.91 L540.31,128.1 L540.79,123.68 L541.28,119.8 L541.76,116.61 L542.24,114.25 L542.72,112.79 L543.2,112.3 L543.68,112.78 L544.16,114.22 L544.64,116.55 L545.12,119.68 L545.61,123.5 L546.09,127.86 L546.57,132.58 L547.05,137.5 L547.53,142.42 L548.01,147.14 L548.49,151.5 L548.98,155.32 L549.46,158.45 L549.94,160.78 L550.42,162.22 L550.9,162.7 L551.38,162.19 L551.86,160.66 L552.34,158.19 L552.83,154.87 L553.31,150.81 L553.79,146.19 L554.27,141.17 L554.75,135.95 L555.23,130.73 L555.71,125.71 L556.19,121.09 L556.67,117.03 L557.16,113.71 L557.64,111.24 L558.12,109.71 L558.6,109.2 L559.09,109.72 L559.58,111.25 L560.06,113.74 L560.55,117.09 L561.04,121.18 L561.52,125.84 L562.01,130.89 L562.5,136.15 L562.99,141.41 L563.48,146.46 L563.96,151.12 L564.45,155.21 L564.94,158.56 L565.42,161.05 L565.91,162.58 L566.4,163.1 L566.88,162.64 L567.36,161.28 L567.84,159.08 L568.33,156.11 L568.81,152.5 L569.29,148.38 L569.77,143.9 L570.25,139.25 L570.73,134.6 L571.21,130.12 L571.69,126 L572.17,122.39 L572.66,119.42 L573.14,117.22 L573.62,115.86 L574.1,115.4 L574.59,115.83 L575.08,117.12 L575.56,119.2 L576.05,122 L576.54,125.42 L577.02,129.32 L577.51,133.55 L578,137.95 L578.49,142.35 L578.98,146.58 L579.46,150.48 L579.95,153.9 L580.44,156.7 L580.92,158.78 L581.41,160.07 L581.9,160.5 L582.38,160.07 L582.86,158.78 L583.34,156.7 L583.83,153.9 L584.31,150.48 L584.79,146.58 L585.27,142.35 L585.75,137.95 L586.23,133.55 L586.71,129.32 L587.19,125.42 L587.67,122 L588.16,119.2 L588.64,117.12 L589.12,115.83 L589.6,115.4 L590.08,115.8 L590.56,117 L591.04,118.94 L591.52,121.55 L592.01,124.73 L592.49,128.36 L592.97,132.3 L593.45,136.4 L593.93,140.5 L594.41,144.44 L594.89,148.07 L595.38,151.25 L595.86,153.86 L596.34,155.8 L596.82,157 L597.3,157.4 L597.78,157.07 L598.26,156.08 L598.74,154.48 L599.22,152.32 L599.71,149.69 L600.19,146.69 L600.67,143.43 L601.15,140.05 L601.63,136.67 L602.11,133.41 L602.59,130.41 L603.08,127.78 L603.56,125.62 L604.04,124.02 L604.52,123.03 L605,122.7 L605.49,122.99 L605.98,123.85 L606.46,125.24 L606.95,127.11 L607.44,129.39 L607.92,131.99 L608.41,134.81 L608.9,137.75 L609.39,140.69 L609.88,143.51 L610.36,146.11 L610.85,148.39 L611.34,150.26 L611.82,151.65 L612.31,152.51 L612.8,152.8 L613.28,152.51 L613.76,151.64 L614.24,150.24 L614.72,148.35 L615.21,146.04 L615.69,143.42 L616.17,140.57 L616.65,137.6 L617.13,134.63 L617.61,131.78 L618.09,129.16 L618.58,126.85 L619.06,124.96 L619.54,123.56 L620.02,122.69 L620.5,122.4 L620.98,122.66 L621.46,123.43 L621.94,124.68 L622.42,126.35 L622.91,128.4 L623.39,130.73 L623.87,133.27 L624.35,135.9 L624.83,138.53 L625.31,141.07 L625.79,143.4 L626.28,145.45 L626.76,147.12 L627.24,148.37 L627.72,149.14 L628.2,149.4 L628.69,149.2 L629.18,148.6 L629.66,147.64 L630.15,146.34 L630.64,144.76 L631.12,142.95 L631.61,140.99 L632.1,138.95 L632.59,136.91 L633.08,134.95 L633.56,133.14 L634.05,131.56 L634.54,130.26 L635.02,129.3 L635.51,128.7 L636,128.5 L636.5,128.67 L637,129.19 L637.5,130.03 L638,131.15 L638.5,132.52 L639,134.09 L639.5,135.78 L640,137.55 L640.5,139.32 L641,141.01 L641.5,142.58 L642,143.95 L642.5,145.07 L643,145.91 L643.5,146.43 L644,146.6 L644.48,146.43 L644.96,145.91 L645.44,145.07 L645.92,143.95 L646.41,142.58 L646.89,141.01 L647.37,139.32 L647.85,137.55 L648.33,135.78 L648.81,134.09 L649.29,132.52 L649.78,131.15 L650.26,130.03 L650.74,129.19 L651.22,128.67 L651.7,128.5 L652.19,128.65 L652.68,129.1 L653.16,129.83 L653.65,130.81 L654.14,132.01 L654.62,133.38 L655.11,134.86 L655.6,136.4 L656.09,137.94 L656.58,139.42 L657.06,140.79 L657.55,141.99 L658.04,142.97 L658.52,143.7 L659.01,144.15 L659.5,144.3 L659.97,144.18 L660.45,143.83 L660.92,143.26 L661.39,142.5 L661.87,141.58 L662.34,140.53 L662.81,139.42 L663.29,138.28 L663.76,137.17 L664.23,136.12 L664.71,135.2 L665.18,134.44 L665.65,133.87 L666.13,133.52 L666.6,133.4 L667.1,133.44 L667.59,133.55 L668.09,133.74 L668.58,134 L669.08,134.33 L669.57,134.71 L670.07,135.15 L670.56,135.62 L671.06,136.13 L671.55,136.66 L672.05,137.2 L672.55,137.74 L673.04,138.27 L673.54,138.78 L674.03,139.25 L674.53,139.69 L675.02,140.07 L675.52,140.4 L676.01,140.66 L676.51,140.85 L677,140.96 L677.5,141" fill="none" stroke="#f00" stroke-width="1.85" stroke-linejoin="round" clip-path="url(#cb)"/>
<rect x="400" y="14.3" width="277" height="219.9" fill="none" stroke="#000" stroke-width="1.7"/>
<path d="M400.03,234.2v-4.2M400.03,14.3v4.2M446.37,234.2v-4.2M446.37,14.3v4.2M492.7,234.2v-4.2M492.7,14.3v4.2M539.03,234.2v-4.2M539.03,14.3v4.2M585.37,234.2v-4.2M585.37,14.3v4.2M631.7,234.2v-4.2M631.7,14.3v4.2M678.04,234.2v-4.2M678.04,14.3v4.2M423.2,234.2v-2.2M423.2,14.3v2.2M469.53,234.2v-2.2M469.53,14.3v2.2M515.87,234.2v-2.2M515.87,14.3v2.2M562.2,234.2v-2.2M562.2,14.3v2.2M608.54,234.2v-2.2M608.54,14.3v2.2M654.87,234.2v-2.2M654.87,14.3v2.2" stroke="#000" stroke-width="1.6" fill="none"/>
<path d="M400,28.01h4.2M677,28.01h-4.2M400,55.47h4.2M677,55.47h-4.2M400,82.93h4.2M677,82.93h-4.2M400,110.39h4.2M677,110.39h-4.2M400,137.85h4.2M677,137.85h-4.2M400,165.31h4.2M677,165.31h-4.2M400,192.77h4.2M677,192.77h-4.2M400,220.23h4.2M677,220.23h-4.2M400,41.74h2.2M677,41.74h-2.2M400,69.2h2.2M677,69.2h-2.2M400,96.66h2.2M677,96.66h-2.2M400,124.12h2.2M677,124.12h-2.2M400,151.58h2.2M677,151.58h-2.2M400,179.04h2.2M677,179.04h-2.2M400,206.5h2.2M677,206.5h-2.2" stroke="#000" stroke-width="1.6" fill="none"/>
<text x="400.03" y="250.2" font-size="14.5" text-anchor="middle" >−10</text>
<text x="446.37" y="250.2" font-size="14.5" text-anchor="middle" >−5</text>
<text x="492.7" y="250.2" font-size="14.5" text-anchor="middle" >0</text>
<text x="539.03" y="250.2" font-size="14.5" text-anchor="middle" >5</text>
<text x="585.37" y="250.2" font-size="14.5" text-anchor="middle" >10</text>
<text x="631.7" y="250.2" font-size="14.5" text-anchor="middle" >15</text>
<text x="678.04" y="250.2" font-size="14.5" text-anchor="middle" >20</text>
<text x="394.9" y="32.81" font-size="14.5" text-anchor="end" >4</text>
<text x="394.9" y="60.27" font-size="14.5" text-anchor="end" >3</text>
<text x="394.9" y="87.73" font-size="14.5" text-anchor="end" >2</text>
<text x="394.9" y="115.19" font-size="14.5" text-anchor="end" >1</text>
<text x="394.9" y="142.65" font-size="14.5" text-anchor="end" >0</text>
<text x="394.9" y="170.11" font-size="14.5" text-anchor="end" >−1</text>
<text x="394.9" y="197.57" font-size="14.5" text-anchor="end" >−2</text>
<text x="394.9" y="225.03" font-size="14.5" text-anchor="end" >−3</text>
<text x="539.1" y="264.6" font-size="15" text-anchor="middle" >Time (ps)</text>
<text x="0" y="0" font-size="14.7" text-anchor="middle" transform="translate(366.5,136.4) rotate(-90)">SHG field (arb. units)</text>
<text x="370.2" y="11.8" font-size="15.5" font-weight="bold">b</text>
<path d="M526.1,37.5H551.9" stroke="#000" stroke-width="1.5"/>
<text x="555.3" y="41.7" font-size="14.8" text-anchor="start" >Horizontal pump</text>
<path d="M526.1,55.6H551.9" stroke="#f00" stroke-width="1.5"/>
<text x="555.3" y="58.7" font-size="14.8" text-anchor="start" >Vertical pump</text>
<text x="416.6" y="46.6" font-size="15.2" text-anchor="start" >Ta/Co/Pt</text>
<clipPath id="cc"><rect x="54.6" y="291.5" width="276.2" height="218.8"/></clipPath>
<path d="M54.9,379 L58.59,379.6 L62.28,393.9 L65.97,418 L69.66,443 L73.35,458 L77.04,472.4 L80.73,459.3 L84.42,446.9 L88.11,425 L91.8,398 L95.49,371.3 L99.18,353.8 L102.87,350.9 L106.56,363.3 L110.25,388 L113.94,442.86 L117.63,473.15 L121.32,494.12 L125.01,501.6 L128.7,490.74 L132.39,461.07 L136.08,420.55 L139.77,380.03 L143.46,350.36 L147.15,339.5 L150.84,349.45 L154.53,376.63 L158.22,413.75 L161.91,450.87 L165.6,478.05 L169.29,488 L172.98,480.96 L176.67,461.23 L180.36,432.72 L184.05,401.08 L187.74,372.57 L191.43,352.84 L195.12,345.8 L198.81,352.79 L202.5,372.36 L206.19,400.65 L209.88,432.05 L213.57,460.34 L217.26,479.91 L220.95,486.9 L224.64,476.21 L228.33,447 L232.02,407.1 L235.71,367.2 L239.4,337.99 L243.09,327.3 L246.78,339 L250.47,370.95 L254.16,414.6 L257.85,458.25 L261.54,490.2 L265.23,501.9 L268.92,493.6 L272.61,470.33 L276.3,436.71 L279.99,399.39 L283.68,365.77 L287.37,342.5 L291.06,334.2 L294.75,345.98 L298.44,378.15 L302.13,422.1 L305.82,466.05 L309.51,498.22 L313.2,510 L316.89,498.93 L320.58,468.53 L324.27,426.48 L327.96,383.42 L331.65,350.25 L335.34,335.36" fill="none" stroke="#000" stroke-width="1.6" stroke-linejoin="round" clip-path="url(#cc)"/>
<path d="M54.9,492.8 L58.59,481.5 L62.28,460.8 L65.97,416.7 L69.66,376 L73.35,355 L77.04,348.5 L80.73,344.4 L84.42,366 L88.11,395 L91.8,435 L95.49,466 L99.18,480 L102.87,489 L106.56,476.8 L110.25,453 L113.94,435.18 L117.63,404.42 L121.32,376.72 L125.01,357.54 L128.7,350.7 L132.39,359.71 L136.08,384.33 L139.77,417.95 L143.46,451.57 L147.15,476.19 L150.84,485.2 L154.53,475.44 L158.22,448.77 L161.91,412.35 L165.6,375.93 L169.29,349.26 L172.98,339.5 L176.67,347.46 L180.36,369.77 L184.05,402.01 L187.74,437.79 L191.43,470.03 L195.12,492.34 L198.81,500.3 L202.5,484.92 L206.19,444.64 L209.88,394.86 L213.57,354.58 L217.26,339.2 L220.95,346.77 L224.64,367.97 L228.33,398.6 L232.02,432.6 L235.71,463.23 L239.4,484.43 L243.09,492 L246.78,482.82 L250.47,457.72 L254.16,423.45 L257.85,389.18 L261.54,364.08 L265.23,354.9 L268.92,360.97 L272.61,377.96 L276.3,402.52 L279.99,429.78 L283.68,454.34 L287.37,471.33 L291.06,477.4 L294.75,470.99 L298.44,453.47 L302.13,429.55 L305.82,405.63 L309.51,388.11 L313.2,381.7 L316.89,386 L320.58,394.2 L324.27,407 L327.96,413.8 L331.65,423 L335.34,432" fill="none" stroke="#f00" stroke-width="1.6" stroke-linejoin="round" clip-path="url(#cc)"/>
<rect x="54.6" y="291.5" width="276.2" height="218.8" fill="none" stroke="#000" stroke-width="1.7"/>
<path d="M54.6,510.3v-4.2M54.6,291.5v4.2M109.82,510.3v-4.2M109.82,291.5v4.2M165.04,510.3v-4.2M165.04,291.5v4.2M220.26,510.3v-4.2M220.26,291.5v4.2M275.48,510.3v-4.2M275.48,291.5v4.2M330.7,510.3v-4.2M330.7,291.5v4.2M82.21,510.3v-2.2M82.21,291.5v2.2M137.43,510.3v-2.2M137.43,291.5v2.2M192.65,510.3v-2.2M192.65,291.5v2.2M247.87,510.3v-2.2M247.87,291.5v2.2M303.09,510.3v-2.2M303.09,291.5v2.2" stroke="#000" stroke-width="1.6" fill="none"/>
<path d="M54.6,322.28h4.2M330.8,322.28h-4.2M54.6,353.72h4.2M330.8,353.72h-4.2M54.6,385.16h4.2M330.8,385.16h-4.2M54.6,416.6h4.2M330.8,416.6h-4.2M54.6,448.04h4.2M330.8,448.04h-4.2M54.6,479.48h4.2M330.8,479.48h-4.2M54.6,306.56h2.2M330.8,306.56h-2.2M54.6,338h2.2M330.8,338h-2.2M54.6,369.44h2.2M330.8,369.44h-2.2M54.6,400.88h2.2M330.8,400.88h-2.2M54.6,432.32h2.2M330.8,432.32h-2.2M54.6,463.76h2.2M330.8,463.76h-2.2M54.6,495.2h2.2M330.8,495.2h-2.2" stroke="#000" stroke-width="1.6" fill="none"/>
<text x="54.6" y="526.3" font-size="14.5" text-anchor="middle" >10</text>
<text x="109.82" y="526.3" font-size="14.5" text-anchor="middle" >12</text>
<text x="165.04" y="526.3" font-size="14.5" text-anchor="middle" >14</text>
<text x="220.26" y="526.3" font-size="14.5" text-anchor="middle" >16</text>
<text x="275.48" y="526.3" font-size="14.5" text-anchor="middle" >18</text>
<text x="330.7" y="526.3" font-size="14.5" text-anchor="middle" >20</text>
<text x="49.5" y="327.08" font-size="14.5" text-anchor="end" >1.2</text>
<text x="49.5" y="358.52" font-size="14.5" text-anchor="end" >0.8</text>
<text x="49.5" y="389.96" font-size="14.5" text-anchor="end" >0.4</text>
<text x="49.5" y="421.4" font-size="14.5" text-anchor="end" >0.0</text>
<text x="49.5" y="452.84" font-size="14.5" text-anchor="end" >−0.4</text>
<text x="49.5" y="484.28" font-size="14.5" text-anchor="end" >−0.8</text>
<text x="193.3" y="546.1" font-size="15" text-anchor="middle" >Time (ps)</text>
<text x="0" y="0" font-size="14.7" text-anchor="middle" transform="translate(10.6,401.5) rotate(-90)">SHG field (arb. units)</text>
<text x="25.6" y="288.8" font-size="15.5" font-weight="bold">c</text>
<path d="M73.6,310.2H99.5" stroke="#000" stroke-width="1.5"/>
<text x="102.6" y="314" font-size="14.8" text-anchor="start" >M-</text>
<path d="M73.6,327.8H99.5" stroke="#f00" stroke-width="1.5"/>
<text x="102.6" y="331.6" font-size="14.8" text-anchor="start" >M+</text>
<clipPath id="cd"><rect x="400.1" y="292.4" width="276.1" height="218.5"/></clipPath>
<path d="M396,395 L396.5,394.81 L397,394.25 L397.5,393.32 L398,392.07 L398.5,390.51 L399,388.7 L399.5,386.68 L400,384.51 L400.5,382.25 L401,379.95 L401.5,377.69 L402,375.52 L402.5,373.5 L403,371.69 L403.5,370.13 L404,368.88 L404.5,367.95 L405,367.39 L405.5,367.2 L405.99,367.56 L406.48,368.61 L406.97,370.36 L407.47,372.75 L407.96,375.76 L408.45,379.31 L408.94,383.35 L409.43,387.8 L409.92,392.57 L410.41,397.59 L410.9,402.75 L411.4,407.95 L411.89,413.11 L412.38,418.13 L412.87,422.9 L413.36,427.35 L413.85,431.39 L414.34,434.94 L414.83,437.95 L415.33,440.34 L415.82,442.09 L416.31,443.14 L416.8,443.5 L417.29,443.11 L417.78,441.96 L418.28,440.06 L418.77,437.44 L419.26,434.15 L419.75,430.25 L420.24,425.8 L420.73,420.88 L421.23,415.57 L421.72,409.96 L422.21,404.16 L422.7,398.25 L423.19,392.34 L423.68,386.54 L424.18,380.93 L424.67,375.62 L425.16,370.7 L425.65,366.25 L426.14,362.35 L426.63,359.06 L427.12,356.44 L427.62,354.54 L428.11,353.39 L428.6,353 L429.08,353.44 L429.57,354.77 L430.05,356.96 L430.53,359.97 L431.02,363.75 L431.5,368.23 L431.98,373.34 L432.47,379 L432.95,385.1 L433.43,391.54 L433.92,398.21 L434.4,405 L434.88,411.79 L435.37,418.46 L435.85,424.9 L436.33,431 L436.82,436.66 L437.3,441.77 L437.78,446.25 L438.27,450.03 L438.75,453.04 L439.23,455.23 L439.72,456.56 L440.2,457 L440.7,456.46 L441.2,454.84 L441.7,452.18 L442.2,448.53 L442.7,443.95 L443.2,438.52 L443.7,432.36 L444.2,425.58 L444.7,418.29 L445.2,410.64 L445.7,402.77 L446.2,394.83 L446.7,386.96 L447.2,379.31 L447.7,372.02 L448.2,365.24 L448.7,359.08 L449.2,353.65 L449.7,349.07 L450.2,345.42 L450.7,342.76 L451.2,341.14 L451.7,340.6 L452.19,341.13 L452.68,342.73 L453.18,345.36 L453.67,348.97 L454.16,353.52 L454.65,358.91 L455.14,365.05 L455.63,371.85 L456.12,379.18 L456.62,386.92 L457.11,394.94 L457.6,403.1 L458.09,411.26 L458.58,419.28 L459.07,427.02 L459.57,434.35 L460.06,441.15 L460.55,447.29 L461.04,452.68 L461.53,457.23 L462.02,460.84 L462.52,463.47 L463.01,465.07 L463.5,465.6 L463.99,465.04 L464.48,463.37 L464.98,460.63 L465.47,456.85 L465.96,452.11 L466.45,446.47 L466.94,440.05 L467.43,432.95 L467.93,425.29 L468.42,417.2 L468.91,408.82 L469.4,400.3 L469.89,391.78 L470.38,383.4 L470.88,375.31 L471.37,367.65 L471.86,360.55 L472.35,354.13 L472.84,348.49 L473.33,343.75 L473.82,339.97 L474.32,337.23 L474.81,335.56 L475.3,335 L475.78,335.6 L476.27,337.41 L476.75,340.37 L477.23,344.46 L477.72,349.59 L478.2,355.68 L478.68,362.62 L479.17,370.3 L479.65,378.58 L480.13,387.33 L480.62,396.38 L481.1,405.6 L481.58,414.82 L482.07,423.87 L482.55,432.62 L483.03,440.9 L483.52,448.58 L484,455.52 L484.48,461.61 L484.97,466.74 L485.45,470.83 L485.93,473.79 L486.42,475.6 L486.9,476.2 L487.39,475.59 L487.88,473.76 L488.36,470.75 L488.85,466.6 L489.34,461.37 L489.83,455.15 L490.32,448.05 L490.8,440.16 L491.29,431.61 L491.78,422.55 L492.27,413.1 L492.76,403.43 L493.24,393.67 L493.73,384 L494.22,374.55 L494.71,365.49 L495.2,356.94 L495.68,349.05 L496.17,341.95 L496.66,335.73 L497.15,330.5 L497.64,326.35 L498.12,323.34 L498.61,321.51 L499.1,320.9 L499.6,321.67 L500.1,323.96 L500.6,327.73 L501.1,332.92 L501.6,339.42 L502.1,347.11 L502.6,355.85 L503.1,365.47 L503.6,375.81 L504.1,386.65 L504.6,397.82 L505.1,409.08 L505.6,420.25 L506.1,431.09 L506.6,441.43 L507.1,451.05 L507.6,459.79 L508.1,467.48 L508.6,473.98 L509.1,479.17 L509.6,482.94 L510.1,485.23 L510.6,486 L511.1,485.21 L511.59,482.86 L512.09,478.98 L512.58,473.66 L513.08,466.99 L513.57,459.1 L514.07,450.12 L514.57,440.24 L515.06,429.63 L515.56,418.49 L516.05,407.03 L516.55,395.47 L517.04,384.01 L517.54,372.87 L518.03,362.26 L518.53,352.38 L519.03,343.4 L519.52,335.51 L520.02,328.84 L520.51,323.52 L521.01,319.64 L521.5,317.29 L522,316.5 L522.49,317.17 L522.98,319.19 L523.48,322.51 L523.97,327.09 L524.46,332.85 L524.95,339.7 L525.44,347.54 L525.94,356.23 L526.43,365.65 L526.92,375.65 L527.41,386.06 L527.9,396.73 L528.4,407.47 L528.89,418.14 L529.38,428.55 L529.87,438.55 L530.36,447.97 L530.86,456.66 L531.35,464.5 L531.84,471.35 L532.33,477.11 L532.82,481.69 L533.32,485.01 L533.81,487.03 L534.3,487.7 L534.79,486.9 L535.28,484.52 L535.77,480.59 L536.27,475.2 L536.76,468.44 L537.25,460.45 L537.74,451.36 L538.23,441.35 L538.72,430.6 L539.21,419.32 L539.7,407.71 L540.2,395.99 L540.69,384.38 L541.18,373.1 L541.67,362.35 L542.16,352.34 L542.65,343.25 L543.14,335.26 L543.63,328.5 L544.13,323.11 L544.62,319.18 L545.11,316.8 L545.6,316 L546.1,316.71 L546.6,318.83 L547.1,322.33 L547.6,327.15 L548.1,333.19 L548.6,340.37 L549.1,348.55 L549.6,357.6 L550.1,367.36 L550.6,377.67 L551.1,388.34 L551.6,399.2 L552.1,410.06 L552.6,420.73 L553.1,431.04 L553.6,440.8 L554.1,449.85 L554.6,458.03 L555.1,465.21 L555.6,471.25 L556.1,476.07 L556.6,479.57 L557.1,481.69 L557.6,482.4 L558.09,481.71 L558.58,479.65 L559.06,476.25 L559.55,471.58 L560.04,465.71 L560.52,458.75 L561.01,450.81 L561.5,442.02 L561.99,432.55 L562.48,422.55 L562.96,412.19 L563.45,401.65 L563.94,391.11 L564.42,380.75 L564.91,370.75 L565.4,361.27 L565.89,352.49 L566.38,344.55 L566.86,337.59 L567.35,331.72 L567.84,327.05 L568.32,323.65 L568.81,321.59 L569.3,320.9 L569.8,321.63 L570.3,323.82 L570.8,327.43 L571.3,332.38 L571.8,338.59 L572.3,345.93 L572.8,354.28 L573.3,363.47 L573.8,373.34 L574.3,383.71 L574.8,394.37 L575.3,405.13 L575.8,415.79 L576.3,426.16 L576.8,436.03 L577.3,445.22 L577.8,453.57 L578.3,460.91 L578.8,467.12 L579.3,472.07 L579.8,475.68 L580.3,477.87 L580.8,478.6 L581.3,477.96 L581.79,476.04 L582.29,472.88 L582.78,468.54 L583.28,463.08 L583.77,456.6 L584.27,449.22 L584.77,441.05 L585.26,432.24 L585.76,422.94 L586.25,413.3 L586.75,403.5 L587.25,393.7 L587.74,384.06 L588.24,374.76 L588.73,365.95 L589.23,357.78 L589.73,350.4 L590.22,343.92 L590.72,338.46 L591.21,334.12 L591.71,330.96 L592.2,329.04 L592.7,328.4 L593.19,329.02 L593.68,330.86 L594.18,333.89 L594.67,338.06 L595.16,343.3 L595.65,349.52 L596.14,356.61 L596.63,364.45 L597.12,372.91 L597.62,381.84 L598.11,391.09 L598.6,400.5 L599.09,409.91 L599.58,419.16 L600.08,428.09 L600.57,436.55 L601.06,444.39 L601.55,451.48 L602.04,457.7 L602.53,462.94 L603.02,467.11 L603.52,470.14 L604.01,471.98 L604.5,472.6 L605,471.96 L605.5,470.05 L606,466.92 L606.5,462.61 L607,457.2 L607.5,450.81 L608,443.54 L608.5,435.53 L609,426.94 L609.5,417.92 L610,408.63 L610.5,399.27 L611,389.98 L611.5,380.96 L612,372.37 L612.5,364.36 L613,357.09 L613.5,350.7 L614,345.29 L614.5,340.98 L615,337.85 L615.5,335.94 L616,335.3 L616.5,335.84 L616.99,337.43 L617.49,340.07 L617.98,343.69 L618.48,348.25 L618.98,353.65 L619.47,359.81 L619.97,366.62 L620.46,373.97 L620.96,381.73 L621.45,389.77 L621.95,397.95 L622.45,406.13 L622.94,414.17 L623.44,421.93 L623.93,429.27 L624.43,436.09 L624.92,442.25 L625.42,447.65 L625.92,452.21 L626.41,455.83 L626.91,458.47 L627.4,460.06 L627.9,460.6 L628.4,460.07 L628.9,458.5 L629.4,455.92 L629.9,452.37 L630.4,447.93 L630.9,442.66 L631.4,436.68 L631.9,430.09 L632.4,423.02 L632.9,415.6 L633.4,407.96 L633.9,400.24 L634.4,392.6 L634.9,385.18 L635.4,378.11 L635.9,371.52 L636.4,365.54 L636.9,360.27 L637.4,355.83 L637.9,352.28 L638.4,349.7 L638.9,348.13 L639.4,347.6 L639.89,348.03 L640.38,349.31 L640.88,351.42 L641.37,354.33 L641.86,357.97 L642.35,362.3 L642.84,367.24 L643.33,372.7 L643.83,378.59 L644.32,384.81 L644.81,391.25 L645.3,397.8 L645.79,404.35 L646.28,410.79 L646.77,417.01 L647.27,422.9 L647.76,428.36 L648.25,433.3 L648.74,437.63 L649.23,441.27 L649.73,444.18 L650.22,446.29 L650.71,447.57 L651.2,448 L651.68,447.6 L652.17,446.41 L652.65,444.45 L653.13,441.76 L653.61,438.39 L654.1,434.4 L654.58,429.86 L655.06,424.86 L655.54,419.5 L656.03,413.87 L656.51,408.07 L656.99,402.23 L657.47,396.43 L657.96,390.8 L658.44,385.44 L658.92,380.44 L659.4,375.9 L659.89,371.91 L660.37,368.54 L660.85,365.85 L661.33,363.89 L661.82,362.7 L662.3,362.3 L662.79,362.58 L663.28,363.43 L663.76,364.84 L664.25,366.77 L664.74,369.19 L665.23,372.08 L665.72,375.39 L666.2,379.06 L666.69,383.03 L667.18,387.24 L667.67,391.64 L668.16,396.13 L668.64,400.67 L669.13,405.16 L669.62,409.56 L670.11,413.77 L670.6,417.74 L671.08,421.41 L671.57,424.72 L672.06,427.61 L672.55,430.03 L673.04,431.96 L673.52,433.37 L674.01,434.22 L674.5,434.5 L675,434.51 L675.5,434.56 L676,434.62 L676.5,434.68 L677,434.74 L677.5,434.79 L678,434.8" fill="none" stroke="#000" stroke-width="1.85" stroke-linejoin="round" clip-path="url(#cd)"/>
<path d="M398,396 L398.49,396.38 L398.99,397.51 L399.48,399.33 L399.97,401.77 L400.47,404.72 L400.96,408.06 L401.45,411.63 L401.95,415.27 L402.44,418.84 L402.93,422.17 L403.43,425.13 L403.92,427.57 L404.41,429.39 L404.91,430.52 L405.4,430.9 L405.9,430.64 L406.39,429.88 L406.89,428.62 L407.38,426.89 L407.88,424.71 L408.38,422.13 L408.87,419.18 L409.37,415.93 L409.86,412.41 L410.36,408.7 L410.85,404.86 L411.35,400.95 L411.85,397.04 L412.34,393.2 L412.84,389.49 L413.33,385.98 L413.83,382.72 L414.32,379.77 L414.82,377.19 L415.32,375.01 L415.81,373.28 L416.31,372.02 L416.8,371.26 L417.3,371 L417.79,371.28 L418.28,372.12 L418.78,373.51 L419.27,375.41 L419.76,377.81 L420.25,380.65 L420.74,383.89 L421.23,387.47 L421.73,391.34 L422.22,395.42 L422.71,399.65 L423.2,403.95 L423.69,408.25 L424.18,412.48 L424.68,416.56 L425.17,420.42 L425.66,424.01 L426.15,427.25 L426.64,430.09 L427.13,432.49 L427.62,434.39 L428.12,435.78 L428.61,436.62 L429.1,436.9 L429.6,436.56 L430.1,435.53 L430.6,433.84 L431.1,431.51 L431.6,428.6 L432.1,425.15 L432.6,421.24 L433.1,416.92 L433.6,412.29 L434.1,407.43 L434.6,402.42 L435.1,397.38 L435.6,392.37 L436.1,387.51 L436.6,382.88 L437.1,378.56 L437.6,374.65 L438.1,371.2 L438.6,368.29 L439.1,365.96 L439.6,364.27 L440.1,363.24 L440.6,362.9 L441.1,363.29 L441.59,364.43 L442.09,366.32 L442.58,368.92 L443.08,372.17 L443.57,376.03 L444.07,380.4 L444.57,385.23 L445.06,390.4 L445.56,395.84 L446.05,401.43 L446.55,407.07 L447.04,412.66 L447.54,418.1 L448.03,423.27 L448.53,428.1 L449.03,432.47 L449.52,436.33 L450.02,439.58 L450.51,442.18 L451.01,444.07 L451.5,445.21 L452,445.6 L452.49,445.2 L452.98,444.02 L453.48,442.06 L453.97,439.37 L454.46,435.99 L454.95,431.98 L455.44,427.41 L455.93,422.35 L456.43,416.89 L456.92,411.14 L457.41,405.17 L457.9,399.1 L458.39,393.03 L458.88,387.06 L459.38,381.31 L459.87,375.85 L460.36,370.79 L460.85,366.22 L461.34,362.21 L461.83,358.83 L462.32,356.14 L462.82,354.18 L463.31,353 L463.8,352.6 L464.3,353.04 L464.79,354.37 L465.29,356.56 L465.78,359.57 L466.28,363.35 L466.77,367.83 L467.27,372.94 L467.77,378.6 L468.26,384.7 L468.76,391.14 L469.25,397.81 L469.75,404.6 L470.25,411.39 L470.74,418.06 L471.24,424.5 L471.73,430.6 L472.23,436.26 L472.73,441.37 L473.22,445.85 L473.72,449.63 L474.21,452.64 L474.71,454.83 L475.2,456.16 L475.7,456.6 L476.2,456.12 L476.7,454.68 L477.2,452.31 L477.7,449.05 L478.2,444.96 L478.7,440.1 L479.2,434.55 L479.7,428.43 L480.2,421.81 L480.7,414.83 L481.2,407.61 L481.7,400.25 L482.2,392.89 L482.7,385.67 L483.2,378.69 L483.7,372.07 L484.2,365.95 L484.7,360.4 L485.2,355.54 L485.7,351.45 L486.2,348.19 L486.7,345.82 L487.2,344.38 L487.7,343.9 L488.19,344.42 L488.68,345.97 L489.18,348.53 L489.67,352.05 L490.16,356.47 L490.65,361.72 L491.14,367.71 L491.63,374.32 L492.12,381.46 L492.62,389 L493.11,396.81 L493.6,404.75 L494.09,412.69 L494.58,420.5 L495.07,428.04 L495.57,435.18 L496.06,441.79 L496.55,447.78 L497.04,453.03 L497.53,457.45 L498.02,460.97 L498.52,463.53 L499.01,465.08 L499.5,465.6 L499.99,465.09 L500.48,463.56 L500.96,461.04 L501.45,457.57 L501.94,453.21 L502.43,448.01 L502.92,442.07 L503.4,435.48 L503.89,428.33 L504.38,420.76 L504.87,412.86 L505.36,404.78 L505.84,396.62 L506.33,388.54 L506.82,380.64 L507.31,373.07 L507.8,365.92 L508.28,359.33 L508.77,353.39 L509.26,348.19 L509.75,343.83 L510.24,340.36 L510.72,337.84 L511.21,336.31 L511.7,335.8 L512.18,336.38 L512.66,338.11 L513.14,340.97 L513.62,344.9 L514.1,349.83 L514.58,355.69 L515.05,362.37 L515.53,369.75 L516.01,377.72 L516.49,386.13 L516.97,394.84 L517.45,403.7 L517.93,412.56 L518.41,421.27 L518.89,429.68 L519.37,437.65 L519.85,445.03 L520.33,451.71 L520.8,457.57 L521.28,462.5 L521.76,466.43 L522.24,469.29 L522.72,471.02 L523.2,471.6 L523.69,471 L524.18,469.22 L524.68,466.28 L525.17,462.23 L525.66,457.15 L526.15,451.11 L526.64,444.23 L527.13,436.62 L527.62,428.42 L528.12,419.75 L528.61,410.78 L529.1,401.65 L529.59,392.52 L530.08,383.55 L530.58,374.88 L531.07,366.68 L531.56,359.07 L532.05,352.19 L532.54,346.15 L533.03,341.07 L533.52,337.02 L534.02,334.08 L534.51,332.3 L535,331.7 L535.5,332.3 L535.99,334.07 L536.49,337 L536.98,341.03 L537.48,346.09 L537.98,352.1 L538.47,358.95 L538.97,366.52 L539.46,374.7 L539.96,383.32 L540.45,392.26 L540.95,401.35 L541.45,410.44 L541.94,419.38 L542.44,428 L542.93,436.17 L543.43,443.75 L543.92,450.6 L544.42,456.61 L544.92,461.67 L545.41,465.7 L545.91,468.63 L546.4,470.4 L546.9,471 L547.4,470.37 L547.9,468.48 L548.4,465.37 L548.9,461.1 L549.4,455.75 L549.9,449.41 L550.4,442.21 L550.9,434.28 L551.4,425.77 L551.9,416.84 L552.4,407.64 L552.9,398.36 L553.4,389.16 L553.9,380.23 L554.4,371.72 L554.9,363.79 L555.4,356.59 L555.9,350.25 L556.4,344.9 L556.9,340.63 L557.4,337.52 L557.9,335.63 L558.4,335 L558.9,335.6 L559.39,337.4 L559.89,340.36 L560.38,344.42 L560.88,349.51 L561.37,355.54 L561.87,362.39 L562.37,369.93 L562.86,378.03 L563.36,386.54 L563.85,395.28 L564.35,404.12 L564.84,412.86 L565.34,421.37 L565.83,429.47 L566.33,437.01 L566.83,443.86 L567.32,449.89 L567.82,454.98 L568.31,459.04 L568.81,462 L569.3,463.8 L569.8,464.4 L570.29,463.89 L570.78,462.35 L571.27,459.83 L571.77,456.35 L572.26,451.98 L572.75,446.8 L573.24,440.89 L573.73,434.35 L574.23,427.3 L574.72,419.86 L575.21,412.14 L575.7,404.3 L576.19,396.46 L576.68,388.74 L577.17,381.3 L577.67,374.25 L578.16,367.71 L578.65,361.8 L579.14,356.62 L579.63,352.25 L580.12,348.77 L580.62,346.25 L581.11,344.71 L581.6,344.2 L582.1,344.73 L582.6,346.3 L583.1,348.89 L583.6,352.44 L584.1,356.89 L584.6,362.17 L585.1,368.16 L585.6,374.76 L586.1,381.85 L586.6,389.28 L587.1,396.94 L587.6,404.66 L588.1,412.32 L588.6,419.75 L589.1,426.84 L589.6,433.44 L590.1,439.43 L590.6,444.71 L591.1,449.16 L591.6,452.71 L592.1,455.3 L592.6,456.87 L593.1,457.4 L593.6,456.94 L594.09,455.57 L594.59,453.3 L595.08,450.19 L595.58,446.27 L596.08,441.63 L596.57,436.33 L597.07,430.47 L597.56,424.16 L598.06,417.49 L598.55,410.58 L599.05,403.55 L599.55,396.52 L600.04,389.61 L600.54,382.94 L601.03,376.62 L601.53,370.77 L602.02,365.47 L602.52,360.83 L603.02,356.91 L603.51,353.8 L604.01,351.53 L604.5,350.16 L605,349.7 L605.5,350.17 L606,351.56 L606.5,353.85 L607,357 L607.5,360.95 L608,365.62 L608.5,370.93 L609,376.78 L609.5,383.06 L610,389.65 L610.5,396.43 L611,403.27 L611.5,410.05 L612,416.64 L612.5,422.92 L613,428.77 L613.5,434.08 L614,438.75 L614.5,442.7 L615,445.85 L615.5,448.14 L616,449.53 L616.5,450 L617,449.6 L617.49,448.39 L617.99,446.41 L618.48,443.68 L618.98,440.26 L619.48,436.19 L619.97,431.55 L620.47,426.43 L620.96,420.89 L621.46,415.05 L621.95,409 L622.45,402.85 L622.95,396.7 L623.44,390.65 L623.94,384.81 L624.43,379.27 L624.93,374.15 L625.42,369.51 L625.92,365.44 L626.42,362.02 L626.91,359.29 L627.41,357.31 L627.9,356.1 L628.4,355.7 L628.9,356.15 L629.4,357.48 L629.9,359.67 L630.4,362.67 L630.9,366.42 L631.4,370.85 L631.9,375.87 L632.4,381.36 L632.9,387.23 L633.4,393.35 L633.9,399.6 L634.4,405.85 L634.9,411.97 L635.4,417.84 L635.9,423.33 L636.4,428.35 L636.9,432.78 L637.4,436.53 L637.9,439.53 L638.4,441.72 L638.9,443.05 L639.4,443.5 L639.89,443.16 L640.38,442.16 L640.88,440.52 L641.37,438.25 L641.86,435.4 L642.35,432.02 L642.84,428.16 L643.33,423.9 L643.83,419.3 L644.32,414.45 L644.81,409.42 L645.3,404.3 L645.79,399.18 L646.28,394.15 L646.77,389.3 L647.27,384.7 L647.76,380.44 L648.25,376.58 L648.74,373.2 L649.23,370.35 L649.73,368.08 L650.22,366.44 L650.71,365.44 L651.2,365.1 L651.68,365.42 L652.17,366.36 L652.65,367.92 L653.13,370.06 L653.61,372.75 L654.1,375.92 L654.58,379.54 L655.06,383.51 L655.54,387.78 L656.03,392.26 L656.51,396.87 L656.99,401.53 L657.47,406.14 L657.96,410.62 L658.44,414.89 L658.92,418.86 L659.4,422.48 L659.89,425.65 L660.37,428.34 L660.85,430.48 L661.33,432.04 L661.82,432.98 L662.3,433.3 L662.8,433.02 L663.29,432.2 L663.79,430.85 L664.28,429 L664.78,426.67 L665.27,423.92 L665.77,420.79 L666.27,417.34 L666.76,413.65 L667.26,409.76 L667.75,405.77 L668.25,401.73 L668.74,397.74 L669.24,393.85 L669.73,390.16 L670.23,386.71 L670.73,383.58 L671.22,380.83 L671.72,378.5 L672.21,376.65 L672.71,375.3 L673.2,374.48 L673.7,374.2 L674.19,374.41 L674.68,375.05 L675.17,376.1 L675.67,377.53 L676.16,379.34 L676.65,381.47 L677.14,383.89 L677.63,386.56 L678.12,389.43 L678.61,392.44 L679.1,395.54 L679.6,398.66 L680.09,401.76 L680.58,404.77 L681.07,407.64 L681.56,410.31 L682.05,412.73 L682.54,414.86 L683.03,416.67 L683.53,418.1 L684.02,419.15 L684.51,419.79 L685,420" fill="none" stroke="#f00" stroke-width="1.85" stroke-linejoin="round" clip-path="url(#cd)"/>
<rect x="400.1" y="292.4" width="276.1" height="218.5" fill="none" stroke="#000" stroke-width="1.7"/>
<path d="M400.1,510.9v-4.2M400.1,292.4v4.2M469.12,510.9v-4.2M469.12,292.4v4.2M538.15,510.9v-4.2M538.15,292.4v4.2M607.17,510.9v-4.2M607.17,292.4v4.2M676.2,510.9v-4.2M676.2,292.4v4.2M434.61,510.9v-2.2M434.61,292.4v2.2M503.64,510.9v-2.2M503.64,292.4v2.2M572.66,510.9v-2.2M572.66,292.4v2.2M641.69,510.9v-2.2M641.69,292.4v2.2" stroke="#000" stroke-width="1.6" fill="none"/>
<path d="M400.1,302.1h4.2M676.2,302.1h-4.2M400.1,335.25h4.2M676.2,335.25h-4.2M400.1,368.4h4.2M676.2,368.4h-4.2M400.1,401.55h4.2M676.2,401.55h-4.2M400.1,434.7h4.2M676.2,434.7h-4.2M400.1,467.85h4.2M676.2,467.85h-4.2M400.1,501h4.2M676.2,501h-4.2M400.1,318.68h2.2M676.2,318.68h-2.2M400.1,351.82h2.2M676.2,351.82h-2.2M400.1,384.98h2.2M676.2,384.98h-2.2M400.1,418.12h2.2M676.2,418.12h-2.2M400.1,451.28h2.2M676.2,451.28h-2.2M400.1,484.43h2.2M676.2,484.43h-2.2" stroke="#000" stroke-width="1.6" fill="none"/>
<text x="400.1" y="526.9" font-size="14.5" text-anchor="middle" >0</text>
<text x="469.12" y="526.9" font-size="14.5" text-anchor="middle" >5</text>
<text x="538.15" y="526.9" font-size="14.5" text-anchor="middle" >10</text>
<text x="607.17" y="526.9" font-size="14.5" text-anchor="middle" >15</text>
<text x="676.2" y="526.9" font-size="14.5" text-anchor="middle" >20</text>
<text x="395" y="306.9" font-size="14.5" text-anchor="end" >9</text>
<text x="395" y="340.05" font-size="14.5" text-anchor="end" >6</text>
<text x="395" y="373.2" font-size="14.5" text-anchor="end" >3</text>
<text x="395" y="406.35" font-size="14.5" text-anchor="end" >0</text>
<text x="395" y="439.5" font-size="14.5" text-anchor="end" >−3</text>
<text x="395" y="472.65" font-size="14.5" text-anchor="end" >−6</text>
<text x="395" y="505.8" font-size="14.5" text-anchor="end" >−9</text>
<text x="539.45" y="545" font-size="15" text-anchor="middle" >Time (ps)</text>
<text x="0" y="0" font-size="14.7" text-anchor="middle" transform="translate(365.4,401.6) rotate(-90)">SHG field (arb. units)</text>
<text x="370.2" y="288.8" font-size="15.5" font-weight="bold">d</text>
<path d="M411,307.6H436.5" stroke="#000" stroke-width="1.5"/>
<text x="440.2" y="311.3" font-size="14.8" text-anchor="start" >Py/Pt</text>
<path d="M411,325.3H436.5" stroke="#f00" stroke-width="1.5"/>
<text x="440.2" y="329.1" font-size="14.8" text-anchor="start" >Py/W</text>
</svg>
</body></html>
